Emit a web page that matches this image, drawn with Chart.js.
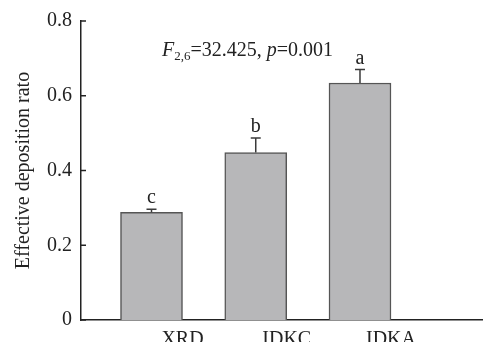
<!DOCTYPE html>
<html><head><meta charset="utf-8">
<script src="https://cdn.jsdelivr.net/npm/chart.js@4.4.1/dist/chart.umd.min.js"></script>
<style>html,body{margin:0;padding:0;background:#fff}#wrap{width:483px;height:342px}</style>
</head><body><div id="wrap"><canvas id="c" width="483" height="342"></canvas></div>
<script>
const categories = ['XRD', 'IDKC', 'IDKA'];
const means = [0.288, 0.448, 0.634];
const errors = [0.008, 0.039, 0.036];
const letters = ['c', 'b', 'a'];
const yTicks = [0, 0.2, 0.4, 0.6, 0.8];

const FONT = '"Liberation Serif", "Times New Roman", serif';

const extras = {
  id: 'extras',
  afterDatasetsDraw(chart) {
    const ctx = chart.ctx, xs = chart.scales.x, ys = chart.scales.y;
    ctx.save();
    means.forEach((m, i) => {
      const x = xs.getPixelForValue(i + 1);
      const y0 = ys.getPixelForValue(m);
      const y1 = ys.getPixelForValue(m + errors[i]);
      ctx.strokeStyle = '#3a3a3a';
      ctx.lineWidth = 1.5;
      ctx.beginPath();
      ctx.moveTo(x, y0); ctx.lineTo(x, y1);
      ctx.moveTo(x - 5, y1); ctx.lineTo(x + 5, y1);
      ctx.stroke();
      ctx.fillStyle = '#222';
      ctx.font = '20px ' + FONT;
      ctx.textAlign = 'center';
      ctx.textBaseline = 'alphabetic';
      ctx.fillText(letters[i], x, y1 - 6);
    });
    ctx.strokeStyle = '#222';
    ctx.lineWidth = 1.5;
    const left = chart.chartArea.left;
    yTicks.forEach(v => {
      const y = ys.getPixelForValue(v);
      ctx.beginPath(); ctx.moveTo(left, y); ctx.lineTo(left + 5, y); ctx.stroke();
    });
    let x = xs.getPixelForValue(1.1);
    const yb = ys.getPixelForValue(0.707);
    ctx.textAlign = 'left';
    ctx.textBaseline = 'alphabetic';
    ctx.fillStyle = '#222';
    const parts = [
      ['F', 'italic 20px ', 0],
      ['2,6', '13px ', 4],
      ['=32.425, ', '20px ', 0],
      ['p', 'italic 20px ', 0],
      ['=0.001', '20px ', 0]
    ];
    parts.forEach(([t, f, dy]) => {
      ctx.font = f + FONT;
      ctx.fillText(t, x, yb + dy);
      x += ctx.measureText(t).width;
    });
    ctx.restore();
  }
};

new Chart(document.getElementById('c'), {
  type: 'bar',
  data: {
    datasets: [{
      data: means.map((v, i) => ({ x: i + 1, y: v })),
      backgroundColor: '#b7b7b9',
      borderColor: '#555555',
      borderWidth: { top: 1.5, left: 1.5, right: 1.5, bottom: 0 },
      borderSkipped: 'bottom',
      barThickness: 62
    }]
  },
  options: {
    responsive: false,
    animation: false,
    layout: { padding: { top: 20, right: 0, bottom: 0, left: 0 } },
    plugins: { legend: { display: false }, tooltip: { enabled: false } },
    scales: {
      x: {
        type: 'linear',
        offset: false,
        min: 0.3237,
        max: 4.18,
        afterBuildTicks: s => { s.ticks = categories.map((c, i) => ({ value: i + 1 })); },
        afterFit: s => { s.height = 22; },
        grid: { display: false, drawTicks: false, offset: false },
        border: { display: true, color: '#222', width: 1.5 },
        ticks: {
          callback: v => categories[Math.round(v) - 1] || '',
          labelOffset: 31,
          padding: 8,
          maxRotation: 0,
          autoSkip: false,
          color: '#222',
          font: { family: FONT, size: 20 }
        }
      },
      y: {
        min: 0,
        max: 0.8,
        afterBuildTicks: s => { s.ticks = yTicks.map(v => ({ value: v })); },
        afterFit: s => { s.width = 81; },
        grid: { display: false, drawTicks: false },
        border: { display: true, color: '#222', width: 1.5 },
        ticks: {
          callback: v => (v === 0 ? '0' : v.toFixed(1)),
          padding: 9,
          color: '#222',
          font: { family: FONT, size: 20 }
        },
        title: {
          display: true,
          text: 'Effective deposition rato',
          color: '#222',
          font: { family: FONT, size: 20 },
          padding: { top: 12, bottom: 0 }
        }
      }
    }
  },
  plugins: [extras]
});
</script></body></html>
